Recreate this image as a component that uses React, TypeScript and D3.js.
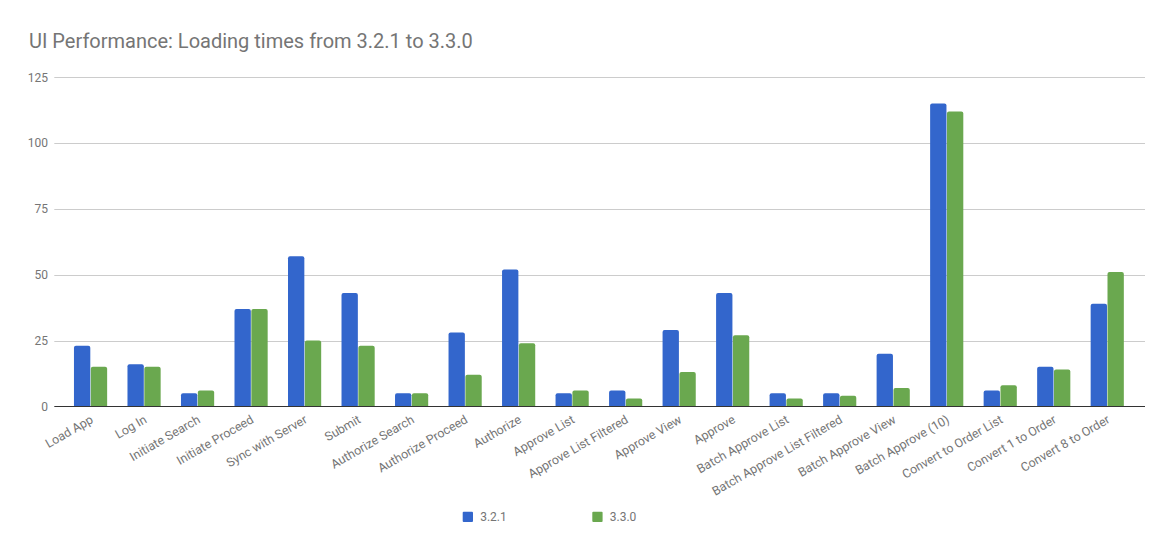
import { useEffect, useRef } from "react";
import * as d3 from "d3";

const CATEGORIES = [
  "Load App",
  "Log In",
  "Initiate Search",
  "Initiate Proceed",
  "Sync with Server",
  "Submit",
  "Authorize Search",
  "Authorize Proceed",
  "Authorize",
  "Approve List",
  "Approve List Filtered",
  "Approve View",
  "Approve",
  "Batch Approve List",
  "Batch Approve List Filtered",
  "Batch Approve View",
  "Batch Approve (10)",
  "Convert to Order List",
  "Convert 1 to Order",
  "Convert 8 to Order",
];

const V321 = [23, 16, 5, 37, 57, 43, 5, 28, 52, 5, 6, 29, 43, 5, 5, 20, 115, 6, 15, 39];
const V330 = [15, 15, 6, 37, 25, 23, 5, 12, 24, 6, 3, 13, 27, 3, 4, 7, 112, 8, 14, 51];

const SERIES = ["3.2.1", "3.3.0"];
const COLORS = ["#3366cc", "#6aa84f"];
const Y_TICKS = [0, 25, 50, 75, 100, 125];

const W = 1172;
const H = 552;
const FONT = "Roboto, Arial, sans-serif";

export default function App() {
  const ref = useRef<SVGSVGElement | null>(null);

  useEffect(() => {
    if (!ref.current) return;
    const svg = d3.select(ref.current);
    svg.selectAll("*").remove();

    const y = d3.scaleLinear().domain([0, 125]).range([406.3, 77.3]);
    const x0 = d3.scaleBand<string>().domain(CATEGORIES).range([63.8, 1134]).paddingInner(0.38).paddingOuter(0.19);
    const x1 = d3.scaleBand<string>().domain(SERIES).range([0, x0.bandwidth()]).paddingInner(0.03);

    // title
    svg
      .append("text")
      .attr("x", 29)
      .attr("y", 47.5)
      .attr("font-family", FONT)
      .attr("font-size", 20)
      .attr("fill", "#757575")
      .text("UI Performance: Loading times from 3.2.1 to 3.3.0");

    // gridlines
    const grid = svg.append("g");
    grid
      .selectAll("line")
      .data(Y_TICKS.filter((t) => t > 0))
      .enter()
      .append("line")
      .attr("x1", 54.3)
      .attr("x2", 1145)
      .attr("y1", (d) => Math.round(y(d)) + 0.5)
      .attr("y2", (d) => Math.round(y(d)) + 0.5)
      .attr("stroke", "#cccccc")
      .attr("stroke-width", 1);

    grid
      .selectAll("text")
      .data(Y_TICKS)
      .enter()
      .append("text")
      .attr("x", 48)
      .attr("y", (d) => y(d) + 4.3)
      .attr("text-anchor", "end")
      .attr("font-family", FONT)
      .attr("font-size", 12)
      .attr("fill", "#757575")
      .text((d) => d);

    // bars
    const groups = svg
      .append("g")
      .selectAll("g")
      .data(CATEGORIES)
      .enter()
      .append("g")
      .attr("transform", (d) => `translate(${x0(d)},0)`);

    groups
      .selectAll("path")
      .data((_, i) => [V321[i], V330[i]].map((v, j) => ({ v, s: SERIES[j], c: COLORS[j] })))
      .enter()
      .append("path")
      .attr("d", (d) => {
        const bx = x1(d.s) as number;
        const bw = x1.bandwidth();
        const top = y(d.v);
        const base = y(0);
        const r = Math.min(2, (base - top) / 2);
        return `M${bx},${base}V${top + r}Q${bx},${top} ${bx + r},${top}H${bx + bw - r}Q${bx + bw},${top} ${bx + bw},${top + r}V${base}Z`;
      })
      .attr("fill", (d) => d.c);

    // baseline
    svg
      .append("line")
      .attr("x1", 54.3)
      .attr("x2", 1145)
      .attr("y1", 406.5)
      .attr("y2", 406.5)
      .attr("stroke", "#333333")
      .attr("stroke-width", 1.2);

    // x labels
    svg
      .append("g")
      .selectAll("text")
      .data(CATEGORIES)
      .enter()
      .append("text")
      .attr("transform", (d) => `translate(${(x0(d) as number) + x0.bandwidth() / 2 + 3.5},${422}) rotate(-30)`)
      .attr("text-anchor", "end")
      .attr("font-family", FONT)
      .attr("font-size", 12.4)
      .attr("fill", "#757575")
      .text((d) => d);

    // legend
    const leg = svg.append("g");
    const legX = [462.7, 592.3];
    SERIES.forEach((s, i) => {
      leg
        .append("rect")
        .attr("x", legX[i])
        .attr("y", 511.7)
        .attr("width", 10.3)
        .attr("height", 10.3)
        .attr("rx", 1)
        .attr("fill", COLORS[i]);
      leg
        .append("text")
        .attr("x", legX[i] + 17.5)
        .attr("y", 521.2)
        .attr("font-family", FONT)
        .attr("font-size", 12)
        .attr("fill", "#757575")
        .text(s);
    });
  }, []);

  return (
    <svg
      ref={ref}
      width={W}
      height={H}
      style={{ position: "absolute", left: 0, top: 0, display: "block", background: "#ffffff" }}
    />
  );
}
